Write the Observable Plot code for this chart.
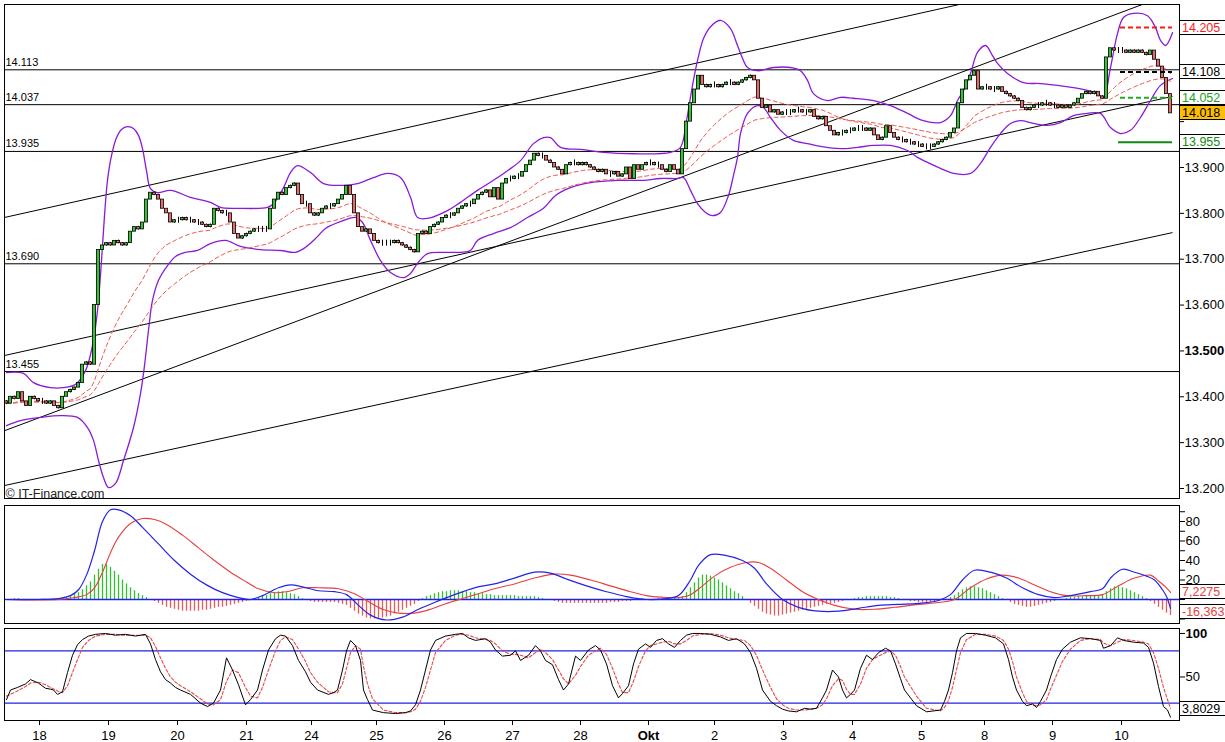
<!DOCTYPE html>
<html><head><meta charset="utf-8">
<script src="https://cdn.jsdelivr.net/npm/d3@7"></script>
<script src="https://cdn.jsdelivr.net/npm/@observablehq/plot@0.6"></script>
<style>
body{margin:0;background:#fff;overflow:hidden;}
#wrap{position:relative;width:1225px;height:742px;overflow:hidden;background:#fff;}
.box{position:absolute;left:1179px;width:60px;height:15px;line-height:13px;border:1px solid #000;background:#fff;font:12.5px 'Liberation Sans',Arial,sans-serif;padding-left:2px;box-sizing:border-box;white-space:nowrap;}
</style></head><body><div id="wrap"></div>
<script>
// ---------- DATA ----------
const firstOpen = 13.39;
const closes = [
13.385,13.40,13.395,13.41,13.39,13.38,13.40,13.395,13.39,13.39,13.385,13.39,13.38,13.375,
13.40,13.41,13.415,13.42,13.43,13.47,13.475,13.47,
13.60,13.72,13.73,13.735,13.73,13.74,13.735,13.73,13.735,
13.76,13.77,13.765,13.78,13.83,13.845,13.84,13.83,13.81,13.80,13.78,
13.785,13.785,13.79,13.785,13.785,13.78,13.78,13.775,13.77,13.775,
13.81,13.805,13.80,13.80,13.78,13.755,13.745,13.75,13.755,13.76,
13.765,13.765,13.765,13.765,13.81,13.83,13.845,13.84,13.855,13.86,13.865,
13.84,13.82,13.82,13.80,13.795,13.80,13.81,13.815,13.815,13.82,13.83,
13.84,13.86,13.84,13.80,13.77,13.76,13.765,13.755,13.74,13.735,
13.735,13.735,13.735,13.74,13.735,13.73,13.725,13.72,13.715,
13.755,13.76,13.755,13.77,13.775,13.78,13.79,13.795,13.795,13.80,13.81,
13.815,13.82,13.82,13.83,13.84,13.845,13.85,13.835,13.855,13.83,13.865,13.875,
13.875,13.88,13.88,13.89,13.905,13.915,13.93,13.925,13.925,13.915,13.91,
13.90,13.895,13.885,13.905,13.91,13.91,13.905,13.91,13.905,13.90,13.895,13.89,13.895,13.885,
13.885,13.89,13.88,13.885,13.90,13.875,13.905,13.895,13.905,13.91,13.91,13.905,13.905,
13.895,13.89,13.905,13.895,13.885,13.94,14.00,14.04,14.07,14.10,14.08,
14.075,14.08,14.08,14.075,14.08,14.085,14.085,14.08,14.085,14.09,14.095,14.10,14.09,
14.05,14.03,14.035,14.02,14.025,14.015,14.02,14.02,14.02,14.025,14.025,14.02,14.02,14.025,
14.01,14.005,14.01,13.99,13.98,13.97,13.975,13.975,13.98,13.98,13.985,13.985,13.985,13.98,13.985,
13.97,13.96,13.965,13.99,13.975,13.965,13.96,13.96,13.955,13.955,13.95,13.95,13.945,13.945,13.945,
13.95,13.955,13.96,13.965,13.975,13.985,14.04,14.07,14.09,14.10,14.11,14.07,
14.075,14.075,14.07,14.07,14.075,14.065,14.06,14.055,14.05,14.045,14.03,14.025,14.03,14.035,14.035,
14.04,14.04,14.035,14.035,14.03,14.035,14.03,14.035,14.04,14.05,14.06,14.065,14.06,14.065,14.055,14.05,
14.14,14.16,14.155,14.155,14.155,14.15,14.155,14.15,14.155,14.15,14.145,14.155,14.135,14.12,14.095,14.06,14.018
];
const dayTickIdx = [8.25,25.5,42.75,60,76.25,92.5,109.5,126.5,143.5,160.5,177,194.25,211.5,228.75,244.5,261.5,278.75];
const dayTickLabels = ["18","19","20","21","24","25","26","27","28","Okt","2","3","4","5","8","9","10"];
const levels = [14.113, 14.037, 13.935, 13.690, 13.455];
const trendX1 = [-0.5, -0.5, -0.5, -0.5];
const trendY1 = [13.791, 13.326, 13.490, 13.2065];
const trendX2 = [238, 284.75, 291.5, 291.5];
const trendY2 = [14.255, 14.258, 14.055, 13.758];
const bbUpper = [[0,13.453],[4.25,13.451],[6.75,13.431],[11,13.420],[14.25,13.420],[17.25,13.427],[19.75,13.457],[21.5,13.512],[22.75,13.588],[23.75,13.697],[24.5,13.795],[25.25,13.872],[26.25,13.926],[27.5,13.965],[28.75,13.983],[30.25,13.989],[31.75,13.985],[33,13.970],[34,13.941],[35,13.893],[36,13.854],[37.75,13.845],[41,13.850],[46,13.835],[51,13.824],[53.5,13.813],[57.75,13.811],[65.25,13.813],[66.75,13.821],[69.25,13.856],[71,13.889],[72.75,13.904],[76,13.889],[79.25,13.865],[84.25,13.861],[87.75,13.865],[91.75,13.878],[95.25,13.887],[98.5,13.878],[101,13.835],[102.75,13.791],[105.25,13.789],[110.25,13.806],[113.5,13.824],[117.75,13.850],[121.75,13.872],[125.25,13.893],[128.5,13.915],[131.75,13.952],[134.25,13.965],[136,13.965],[138.5,13.944],[144.25,13.939],[149.25,13.933],[156.75,13.930],[166,13.933],[168.5,13.944],[170,14.002],[171.5,14.079],[172.75,14.133],[174.25,14.181],[176,14.207],[178.5,14.221],[181,14.203],[182.75,14.166],[184,14.138],[185.25,14.118],[187.75,14.111],[191.75,14.118],[196,14.118],[198.5,14.111],[200.25,14.090],[201.75,14.061],[205.25,14.046],[208.5,14.053],[211.75,14.051],[216.75,14.046],[221,14.035],[225.25,14.018],[229.25,14.002],[233.5,13.998],[236,14.013],[237.75,14.046],[239.25,14.068],[241,14.105],[242.75,14.151],[244.75,14.166],[246.5,14.144],[247.75,14.127],[250.25,14.105],[254.25,14.085],[258.5,14.083],[262.75,14.079],[266.75,14.074],[270.25,14.068],[272.75,14.061],[274.25,14.053],[276,14.118],[277.75,14.192],[279.25,14.227],[281.75,14.236],[285.25,14.231],[287.25,14.205],[288.5,14.177],[289.75,14.166],[291.5,14.194]];
const bbLower = [[0,13.337],[3.5,13.348],[8.5,13.355],[13.5,13.359],[17.75,13.355],[20.25,13.333],[21.75,13.305],[23,13.261],[24.25,13.224],[25.5,13.202],[27.25,13.211],[29.25,13.261],[31.75,13.333],[33.5,13.407],[34.5,13.468],[35.5,13.545],[36.5,13.610],[38,13.654],[39.75,13.680],[42.25,13.706],[44.75,13.715],[47.75,13.719],[51,13.734],[54.75,13.741],[58.5,13.728],[63.5,13.721],[68.5,13.719],[72.25,13.715],[74.75,13.726],[77.25,13.745],[79.75,13.767],[83.5,13.782],[87.25,13.791],[89,13.780],[91,13.741],[93.5,13.697],[96,13.671],[99.25,13.660],[101,13.669],[102.75,13.691],[105.25,13.712],[109.25,13.715],[113.5,13.715],[116,13.719],[117.75,13.741],[121.75,13.756],[126,13.769],[130.25,13.791],[134.25,13.811],[137.25,13.839],[141,13.856],[146,13.867],[152.75,13.872],[159.25,13.872],[163.5,13.876],[167.75,13.876],[169.25,13.878],[171,13.850],[172.75,13.821],[174.75,13.802],[176.5,13.795],[178.5,13.802],[180.5,13.839],[181.75,13.883],[182.75,13.922],[183.5,13.974],[185.25,14.018],[187.75,14.035],[189.25,14.031],[191,14.009],[193.5,13.981],[196.75,13.959],[200.25,13.952],[203.5,13.946],[208.5,13.941],[212.75,13.944],[216.75,13.948],[221,13.948],[225.25,13.937],[227.75,13.922],[230.25,13.911],[233.5,13.898],[236.75,13.887],[241,13.887],[243.5,13.909],[246,13.944],[248.5,13.974],[251,13.996],[253.5,14.002],[256.75,13.996],[260.25,13.992],[263.5,13.998],[266.75,14.013],[270.25,14.018],[273.5,14.018],[276,13.987],[278.5,13.974],[281,13.981],[283.5,14.009],[286,14.046],[288.5,14.079],[291.5,14.094]];
const markerRed = 14.205, markerBlack = 14.108, markerGreen = 14.052, markerGreenSolid = 13.955;

const macdLine = [[0,0],[8,0],[13,1],[16,4],[18,10],[20,25],[22,50],[24,80],[26,92],[28,92],[31,86],[34,74],[38,57],[42,40],[46,26],[50,15],[54,7],[58,2],[61,0],[64,4],[68,12],[71,15],[74,13],[78,9],[82,8],[85,5],[88,-6],[91,-16],[95,-21],[99,-18],[103,-10],[107,-3],[112,5],[117,12],[122,16],[127,22],[132,28],[136,27],[140,21],[145,14],[150,8],[155,3],[160,0],[165,1],[168,4],[171,20],[173,35],[176,46],[180,45],[184,40],[187,32],[190,16],[194,0],[198,-8],[203,-12],[208,-12],[213,-9],[218,-6],[223,-5],[228,-4],[233,-1],[236,5],[239,20],[242,30],[246,28],[250,22],[254,12],[258,5],[262,2],[266,4],[271,8],[274,11],[276,22],[279,31],[282,28],[285,24],[287,20],[289,10],[290,3],[291,-9.1355]];
const signalLine = [[0,0],[13,0],[17,2],[20,5],[22,12],[24,28],[26,48],[28,64],[31,78],[34,83],[37,82],[40,77],[44,66],[48,53],[52,40],[56,28],[60,18],[63,11],[67,7],[70,8],[74,12],[78,12],[83,11],[87,6],[90,-1],[94,-10],[98,-14],[102,-14],[106,-10],[110,-4],[114,1],[118,6],[122,11],[127,16],[132,22],[137,26],[141,25],[146,20],[151,14],[156,8],[160,4],[165,2],[168,2],[171,5],[174,14],[177,24],[181,33],[185,38],[188,38],[191,32],[195,20],[199,8],[203,0],[207,-6],[212,-10],[217,-10],[222,-8],[228,-5],[233,-3],[237,0],[241,12],[245,21],[249,25],[253,22],[257,15],[261,8],[265,4],[270,4],[274,5],[278,14],[282,22],[286,25],[288,19],[290,12],[291,7.2275]];
const histogram = [
0,0,1,1,0,0,-1,-1,0,0,-1,-1,0,0,
1,2,3,5,7,10,14,18,25,31,
36,36,33,29,25,20,16,12,9,6,4,2,0,
-2,-4,-6,-8,-9,-10,-11,-12,-12,-12,-12,-12,-11,-11,-10,-9,-8,-8,-7,-6,-5,-4,-3,-2,-1,
1,2,3,4,6,7,8,8,7,6,5,3,1,
-1,-2,-3,-3,-3,-3,-3,-3,-4,-5,-6,
-9,-12,-15,-17,-19,-20,-20,-20,-19,-18,-17,-15,-13,-11,-9,-7,-5,-2,
1,3,4,6,7,8,8,9,9,9,8,8,7,7,6,6,5,5,4,4,4,4,4,4,3,3,3,3,3,2,1,
0,-1,-2,-3,-4,-4,-4,-4,-4,-4,-4,-4,-4,-4,-4,-4,-3,-3,-3,-2,-2,-2,-1,-1,
0,0,0,0,1,1,1,1,1,1,
3,7,12,17,22,25,25,24,22,20,17,14,11,8,6,3,0,
-4,-7,-10,-13,-15,-16,-17,-17,-16,-15,-14,-13,-12,-11,-10,-9,-8,-7,-6,-5,-5,-4,-3,-2,-1,0,
1,2,2,3,3,3,3,3,3,2,2,1,0,
-1,-2,-2,-3,-3,-3,-3,-2,-2,-1,0,
2,4,7,10,12,13,13,12,11,9,7,5,3,1,
-1,-3,-5,-6,-7,-8,-8,-7,-6,-5,-4,-3,-2,-1,0,
1,2,2,3,3,4,4,4,4,5,8,11,13,13,12,11,9,7,5,3,1,
-2,-5,-8,-11,-14,-16.363
];
const stochK = [[0,24],[1,35],[2.75,38],[4.75,42],[6,47],[8,43],[9.75,37],[11,36],[11.75,35],[12.75,30],[14,33],[15.25,55],[16.5,75],[17.75,87],[19,93],[20.5,97],[22.25,99],[24.75,100],[27.25,98],[29.75,99],[32.25,97],[34.75,99],[36,88],[37.25,70],[38.5,56],[39.75,47],[41,43],[42.25,38],[43.5,35],[46,30],[48.5,20],[50.25,16],[51.75,20],[53.5,35],[55,72],[56.5,58],[58,41],[59.75,18],[61,24],[62.75,35],[64,58],[65.5,81],[67.25,94],[68.5,98],[69.75,97],[71.5,86],[73,69],[74.75,56],[76,44],[77.75,35],[80.5,30],[81.75,32],[82.75,35],[84,58],[85,80],[86,92],[87.25,86],[88.5,69],[89.25,35],[90.25,24],[91.5,12],[94.25,9],[97.25,8],[99.75,9],[101,11],[102.25,18],[103.5,35],[104.75,58],[106,81],[107.25,92],[109.75,97],[112.25,99],[114,100],[115.5,95],[117.25,92],[119.75,94],[121,90],[122.25,81],[124,74],[126,75],[127.25,80],[128.5,69],[130.5,75],[132.25,86],[133.5,80],[134.75,69],[136.5,64],[138,47],[139.25,35],[140.5,42],[142.25,74],[143.5,69],[145.5,81],[147.25,86],[148.5,81],[150,65],[151.5,40],[153,26],[154,31],[155.5,40],[156.75,65],[158,82],[159.75,88],[161,84],[162.5,92],[164,94],[165.5,88],[167,84],[168.5,92],[170,98],[171.5,100],[173.5,100],[176,99],[178.5,96],[180.5,92],[182.5,94],[184.5,88],[186,78],[187.5,60],[189,35],[191,22],[192.5,17],[194,13],[195.5,11],[197.5,10],[199.5,14],[201,13],[202.5,14],[204,26],[205,35],[206.5,58],[208,50],[209,35],[210,26],[211,30],[212,35],[213.5,60],[215,75],[216.5,70],[218,78],[219.75,83],[221,80],[222.25,65],[223.5,48],[224.5,35],[227.5,17],[230,10],[233.5,12],[234.5,22],[235.5,35],[236.5,55],[237.5,80],[238.5,95],[240,100],[242.25,100],[244.75,98],[247.25,95],[249.25,88],[250.5,70],[251.5,50],[252.5,35],[254,22],[255,17],[256.5,19],[257.5,15],[258.5,22],[260,35],[261,50],[262.5,70],[264,82],[266,90],[268.5,95],[271,94],[273.5,92],[274.25,83],[276,86],[277.75,95],[279.25,92],[281.75,90],[284.25,89],[285.5,84],[286.75,66],[288,39],[289.25,16],[290.25,12],[291,3.8029]];
const stochD = [[0,28],[1,30],[2.75,34],[4.75,39],[6,43],[8,44],[9.75,41],[11,38],[12.75,34],[14,32],[15.25,40],[16.5,55],[17.75,70],[19,84],[20.5,92],[22.25,97],[24.75,99],[27.25,99],[29.75,98],[32.25,98],[34.75,98],[36,95],[37.25,85],[38.5,72],[39.75,60],[41,50],[42.25,44],[43.5,40],[46,33],[48.5,25],[50.25,19],[51.75,18],[53.5,24],[55,45],[56.5,58],[58,55],[59.75,38],[61,28],[62.75,26],[64,38],[65.5,58],[67.25,80],[68.5,92],[69.75,96],[71.5,93],[73,82],[74.75,68],[76,55],[77.75,44],[80.5,33],[81.75,32],[82.75,32],[84,42],[85,60],[86,78],[87.25,86],[88.5,82],[89.25,62],[90.25,42],[91.5,25],[94.25,12],[97.25,9],[99.75,9],[101,10],[102.25,13],[103.5,22],[104.75,38],[106,58],[107.25,78],[109.75,92],[112.25,98],[114,99],[115.5,98],[117.25,95],[119.75,93],[121,92],[122.25,88],[124,80],[126,76],[127.25,76],[128.5,75],[130.5,72],[132.25,78],[133.5,82],[134.75,78],[136.5,70],[138,58],[139.25,48],[140.5,42],[142.25,52],[143.5,62],[145.5,75],[147.25,80],[148.5,83],[150,76],[151.5,60],[153,42],[154,32],[155.5,32],[156.75,45],[158,62],[159.75,80],[161,86],[162.5,88],[164,90],[165.5,91],[167,88],[168.5,88],[170,92],[171.5,97],[173.5,99],[176,100],[178.5,98],[180.5,95],[182.5,93],[184.5,92],[186,86],[187.5,75],[189,58],[191,38],[192.5,25],[194,18],[195.5,14],[197.5,12],[199.5,12],[201,13],[202.5,14],[204,18],[205,25],[206.5,40],[208,48],[209,46],[210,36],[211,30],[212,30],[213.5,42],[215,60],[216.5,70],[218,74],[219.75,78],[221,80],[222.25,75],[223.5,62],[224.5,50],[227.5,28],[230,14],[233.5,11],[234.5,15],[235.5,23],[236.5,38],[237.5,58],[238.5,78],[240,93],[242.25,99],[244.75,99],[247.25,97],[249.25,92],[250.5,82],[251.5,68],[252.5,50],[254,32],[255,22],[256.5,18],[257.5,17],[258.5,18],[260,24],[261,36],[262.5,52],[264,68],[266,82],[268.5,92],[271,94],[273.5,93],[274.25,89],[276,86],[277.75,90],[279.25,93],[281.75,92],[284.25,90],[285.5,88],[286.75,78],[288,60],[289.25,38],[290.25,24],[291,14]];
const mainTicks = [13.2,13.3,13.4,13.6,13.7,13.8,13.9];
const mainBoldTicks = [13.5];
const mainHiddenTicks = [14.0,14.1,14.2];
const macdLabelTicks = [20,40,60,80];
const macdMinorTicks = [-20,-10,0,10,30,50,70,90];

// ---------- BUILD ----------
const wrap = document.getElementById("wrap");
const FONT = "'Liberation Sans', Arial, sans-serif";
const XD = [-0.5, 293.25];
const base = {width: 1225, marginLeft: 4, marginRight: 46};
const style = {fontFamily: FONT, fontSize: "13px", color: "#000", background: "transparent", overflow: "visible"};
const UP = "#35c235", DOWN = "#e86b6b", PURPLE = "#8b1ad6", MA = "#e85a50", BLUE = "#2222e8";

const candles = closes.map((c, i) => ({i, o: i === 0 ? firstOpen : closes[i - 1], c}));
function ema(arr, n) { const a = 2 / (n + 1); let e = arr[0]; return arr.map(v => (e = e + a * (v - e))); }
const ma20 = ema(closes, 20).map((v, i) => [i, v]);
const ma40 = ema(closes, 40).map((v, i) => [i, v]);
const lineOpts = (stroke, extra) => Object.assign({x: d => d[0], y: d => d[1], stroke, clip: true}, extra);

const p1 = Plot.plot({
  ...base, height: 502, marginTop: 4, marginBottom: 4,
  x: {domain: XD, axis: null},
  y: {domain: [13.1782, 14.2554], label: null},
  color: {type: "identity"},
  style,
  marks: [
    Plot.ruleY(levels, {stroke: "#000", strokeWidth: 1}),
    Plot.link(d3.range(trendX1.length), {x1: k => trendX1[k], y1: k => trendY1[k], x2: k => trendX2[k], y2: k => trendY2[k], stroke: "#000", strokeWidth: 1, clip: true}),
    Plot.line(bbUpper, lineOpts(PURPLE, {curve: "catmull-rom", strokeWidth: 1.3})),
    Plot.line(bbLower, lineOpts(PURPLE, {curve: "catmull-rom", strokeWidth: 1.3})),
    Plot.line(ma40, lineOpts(MA, {strokeDasharray: "4,3", strokeWidth: 1})),
    Plot.line(ma20, lineOpts(MA, {strokeDasharray: "4,3", strokeWidth: 1})),
    Plot.ruleX(candles, {x: "i", y1: d => Math.min(d.o, d.c), y2: d => Math.max(d.o, d.c), insetTop: -3, insetBottom: -3, stroke: "#000", strokeWidth: 1}),
    Plot.rect(candles, {x1: d => d.i - 0.4, x2: d => d.i + 0.4, y1: "o", y2: "c", fill: d => d.c >= d.o ? UP : DOWN, stroke: "#000", strokeWidth: 0.8}),
    Plot.ruleY([markerRed], {x1: 278.5, x2: 291.5, stroke: "#ff1a1a", strokeWidth: 2, strokeDasharray: "5,3"}),
    Plot.ruleY([markerBlack], {x1: 278.5, x2: 291.5, stroke: "#000", strokeWidth: 2, strokeDasharray: "5,3"}),
    Plot.ruleY([markerGreen], {x1: 278.5, x2: 291.5, stroke: "#22aa22", strokeWidth: 2, strokeDasharray: "5,3"}),
    Plot.ruleY([markerGreenSolid], {x1: 278, x2: 291.5, stroke: "#128a12", strokeWidth: 2}),
    Plot.text(levels, {x: XD[0], y: d => d, text: d => d.toFixed(3), textAnchor: "start", lineAnchor: "bottom", dx: 1, dy: -4, fontSize: 11, fill: "#000"}),
    Plot.text(["© IT-Finance.com"], {frameAnchor: "bottom-left", textAnchor: "start", lineAnchor: "bottom", dx: 1, dy: -1, fontSize: 12.5, fill: "#222"}),
    Plot.frame({stroke: "#000"}),
    Plot.axisY(mainTicks, {anchor: "right", tickSize: 4, tickPadding: 1, tickFormat: d => d.toFixed(3), fontSize: 13, label: null}),
    Plot.axisY(mainBoldTicks, {anchor: "right", tickSize: 4, tickPadding: 1, tickFormat: d => d.toFixed(3), fontSize: 13, fontWeight: "bold", label: null}),
    Plot.axisY(mainHiddenTicks, {anchor: "right", tickSize: 4, tickFormat: () => "", label: null})
  ]
});

const histData = histogram.map((v, i) => ({i, v}));
const p2 = Plot.plot({
  ...base, height: 123, marginTop: 3, marginBottom: 2,
  x: {domain: XD, axis: null},
  y: {domain: [-24.6, 96.4], label: null},
  color: {type: "identity"},
  style,
  marks: [
    Plot.ruleX(histData, {x: "i", y1: 0, y2: "v", stroke: d => d.v >= 0 ? "#2fc22f" : "#e65a5a", strokeWidth: 1.3}),
    Plot.ruleY([0], {stroke: BLUE, strokeWidth: 1.3}),
    Plot.line(signalLine, lineOpts("#e64040", {curve: "catmull-rom", strokeWidth: 1.1})),
    Plot.line(macdLine, lineOpts(BLUE, {curve: "catmull-rom", strokeWidth: 1.2})),
    Plot.frame({stroke: "#000"}),
    Plot.axisY(macdLabelTicks, {anchor: "right", tickSize: 5, tickPadding: 1, fontSize: 13, label: null}),
    Plot.axisY(macdMinorTicks, {anchor: "right", tickSize: 5, tickFormat: () => "", label: null})
  ]
});

const labelOf = new Map(dayTickIdx.map((d, k) => [d, dayTickLabels[k]]));
const normalDays = dayTickIdx.filter(d => labelOf.get(d) !== "Okt");
const boldDays = dayTickIdx.filter(d => labelOf.get(d) === "Okt");
const p3 = Plot.plot({
  ...base, height: 117, marginTop: 3, marginBottom: 22,
  x: {domain: XD, label: null},
  y: {domain: [0, 105.7], label: null},
  style,
  marks: [
    Plot.ruleY([20, 80], {stroke: BLUE, strokeWidth: 1.2}),
    Plot.line(stochD, lineOpts("#e64848", {strokeDasharray: "3,2", strokeWidth: 1.1})),
    Plot.line(stochK, lineOpts("#000", {strokeWidth: 1})),
    Plot.frame({stroke: "#000"}),
    Plot.axisY([50], {anchor: "right", tickSize: 5, tickPadding: 1, fontSize: 13, label: null}),
    Plot.axisY([100], {anchor: "right", tickSize: 5, tickPadding: 1, fontSize: 13, fontWeight: "bold", label: null}),
    Plot.axisX(normalDays, {anchor: "bottom", tickSize: 5, tickPadding: 5, tickFormat: d => labelOf.get(d), fontSize: 13, label: null}),
    Plot.axisX(boldDays, {anchor: "bottom", tickSize: 5, tickPadding: 5, tickFormat: d => labelOf.get(d), fontSize: 13, fontWeight: "bold", label: null})
  ]
});

function place(svg, top) { svg.style.position = "absolute"; svg.style.left = "0px"; svg.style.top = top + "px"; wrap.appendChild(svg); }
place(p1, 0); place(p2, 502); place(p3, 625);

function addBox(plot, svgTop, v, text, color, bg, frameBottom) {
  const y = svgTop + plot.scale("y").apply(v);
  let top = y - 7.5;
  if (frameBottom != null) top = Math.min(top, frameBottom - 19);
  const d = document.createElement("div");
  d.className = "box";
  d.textContent = text;
  d.style.top = top + "px";
  d.style.color = color;
  if (bg) d.style.background = bg;
  wrap.appendChild(d);
}
const fmt3 = v => v.toFixed(3);
const comma = (v, n) => v.toFixed(n).replace(".", ",");
const lastClose = closes[closes.length - 1];
addBox(p1, 0, markerRed, fmt3(markerRed), "#ff1a1a");
addBox(p1, 0, markerBlack, fmt3(markerBlack), "#000");
addBox(p1, 0, markerGreen, fmt3(markerGreen), "#22a022");
addBox(p1, 0, lastClose, fmt3(lastClose), "#000", "#ffbf00");
addBox(p1, 0, markerGreenSolid, fmt3(markerGreenSolid), "#128a12");
const lastSignal = signalLine[signalLine.length - 1][1];
const lastHist = histogram[histogram.length - 1];
addBox(p2, 502, lastSignal, comma(lastSignal, 4), "#e64040");
addBox(p2, 502, lastHist, comma(lastHist, 3), "#e64040", null, 623);
const lastK = stochK[stochK.length - 1][1];
addBox(p3, 625, lastK, comma(lastK, 4), "#000", null, 720);
</script></body></html>
